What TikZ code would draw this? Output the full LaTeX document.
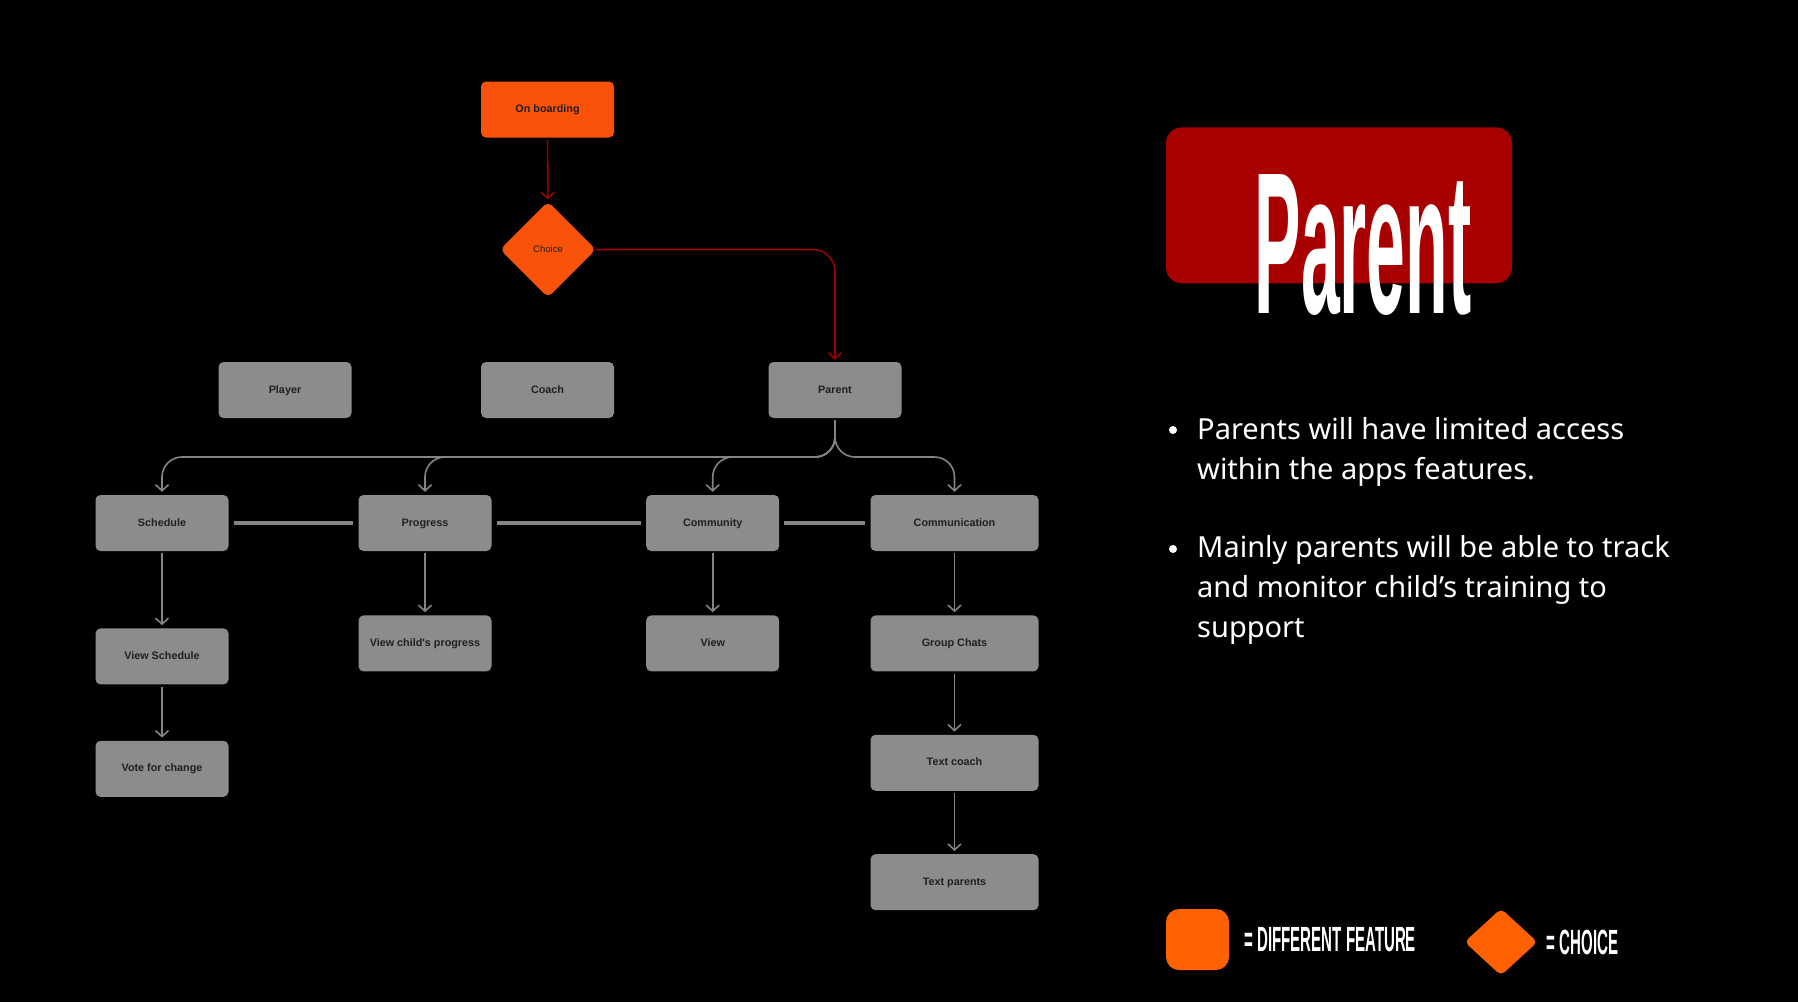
\documentclass[tikz,border=0pt]{standalone}
\usepackage{fontspec}
\setmainfont{Noto Sans}
\newfontfamily\titlefont{Liberation Sans}
\usetikzlibrary{arrows.meta,shapes.geometric,positioning,calc}
\definecolor{featorange}{RGB}{249,82,10}
\definecolor{legorange} {RGB}{255,97,0}
\definecolor{boxgray}   {RGB}{140,140,140}
\definecolor{boxtext}   {RGB}{32,32,32}
\definecolor{linkred}   {RGB}{155,0,0}
\definecolor{bannerred} {RGB}{168,0,0}
\definecolor{linkgray}  {RGB}{132,132,132}
\tikzset{
  mainbox/.style={rounded corners=5pt, align=center,
                  minimum height=56pt, minimum width=#1,
                  font=\titlefont\bfseries\fontsize{10.8}{13}\selectfont,
                  text height=8pt, text depth=2pt,
                  text=boxtext, inner sep=2pt},
  mainbox/.default=133pt,
  featbox/.style ={mainbox, fill=featorange},
  graybox/.style ={mainbox, fill=boxgray},
  widebox/.style ={mainbox=168pt, fill=boxgray},
  choicebox/.style={diamond, fill=featorange, rounded corners=6pt,
                  minimum width=96pt, minimum height=96pt, inner sep=0pt,
                  font=\titlefont\fontsize{9.5}{11}\selectfont, text=boxtext},
  rarr/.style   ={-{Straight Barb[length=6pt,width=13pt]}, linkred,
                  line width=1.6pt, shorten >=2pt, shorten <=2pt},
  garr/.style   ={-{Straight Barb[length=6pt,width=13pt]}, linkgray,
                  line width=1.6pt, shorten >=3pt, shorten <=2pt},
  sepline/.style={linkgray, line width=3.5pt, shorten >=5pt, shorten <=5pt},
  %% right-hand panel styles
  banner/.style ={fill=bannerred, rounded corners=16pt,
                  minimum width=346pt, minimum height=156pt},
  titletext/.style={text=white, inner sep=0pt, anchor=base,
                  font=\titlefont\bfseries\fontsize{202}{202}\selectfont},
  pointtext/.style={text=white, align=left, inner sep=0pt, anchor=base west,
                  font=\fontsize{29}{40}\selectfont},
  pointdot/.style={circle, fill=white, minimum size=8pt, inner sep=0pt},
  legsquare/.style={fill=legorange, rounded corners=13pt,
                  minimum width=63pt, minimum height=61pt},
  legdiamond/.style={diamond, fill=legorange, rounded corners=5pt,
                  minimum width=73pt, minimum height=67pt, inner sep=0pt},
  legtext/.style={text=white, inner sep=0pt,
                  font=\titlefont\bfseries\fontsize{35}{35}\selectfont},
}
\begin{document}
\begin{tikzpicture}[x=1pt,y=-1pt]
  \fill[black] (0,0) rectangle (1798,1002);
  \useasboundingbox (0,0) rectangle (1798,1002);

  %% flow chart
  \node[featbox] (onb) at (547.5,109.5) {On boarding};
  \node[choicebox] (choice) at (548,249.5) {Choice};
  \node[graybox] (player) at (285,390) {Player};
  \node[graybox] (coach) at (547.5,390) {Coach};
  \node[graybox] (parent) at (835,390) {Parent};
  \coordinate (bus) at (835,457);

  \node[graybox] (sched) at (162,523) {Schedule};
  \node[graybox] (progress) at (425,523) {Progress};
  \node[graybox] (community) at (712.7,523) {Community};
  \node[widebox] (comms) at (954.5,523) {Communication};

  \node[graybox, below=77pt of sched] (vsched) {View Schedule};
  \node[graybox, below=56pt of vsched] (vote) {Vote for change};
  \node[graybox, below=64pt of progress] (vprog) {View child's progress};
  \node[graybox, below=64pt of community] (view) {View};
  \node[widebox, below=64pt of comms] (group) {Group Chats};
  \node[widebox, below=63pt of group] (tcoach) {Text coach};
  \node[widebox, below=63pt of tcoach] (tparents) {Text parents};

  \draw[rarr] (onb) -- (choice);
  \draw[rarr, rounded corners=22pt, shorten <=0pt] (choice.east) -| (parent.north);

  \draw[garr, rounded corners=20pt] (parent.south) |- (sched.north |- bus) -- (sched.north);
  \draw[garr, rounded corners=20pt] (parent.south) |- (progress.north |- bus) -- (progress.north);
  \draw[garr, rounded corners=20pt] (parent.south) |- (community.north |- bus) -- (community.north);
  \draw[garr, rounded corners=20pt] (parent.south) |- (comms.north |- bus) -- (comms.north);

  \draw[sepline] (sched) -- (progress);
  \draw[sepline] (progress) -- (community);
  \draw[sepline] (community) -- (comms);

  \draw[garr] (sched) -- (vsched);
  \draw[garr] (vsched) -- (vote);
  \draw[garr] (progress) -- (vprog);
  \draw[garr] (community) -- (view);
  \draw[garr] (comms) -- (group);
  \draw[garr] (group) -- (tcoach);
  \draw[garr] (tcoach) -- (tparents);

  %% right panel
  \node[banner] (banner) at (1339,205.3) {};
  \node[titletext] (title) at (1363,313) {\scalebox{0.345}[1]{Parent}};

  \node[pointdot] (dot1) at (1173,430) {};
  \node[pointtext] (pt1) at (1197,479) {Parents will have limited access\\within the apps features.};
  \node[pointdot] (dot2) at (1173,549) {};
  \node[pointtext] (pt2) at (1197,637) {Mainly parents will be able to track\\and monitor child’s training to\\support};

  %% legend
  \node[legsquare] (legfeat) at (1197.5,939.5) {};
  \node[legtext, right=15pt of legfeat] (legfeattext) {\scalebox{0.43}[1]{= DIFFERENT FEATURE}};
  \node[legdiamond] (legchoice) at (1501,942) {};
  \node[legtext, right=9pt of legchoice] (legchoicetext) {\scalebox{0.43}[1]{= CHOICE}};
\end{tikzpicture}
\end{document}
